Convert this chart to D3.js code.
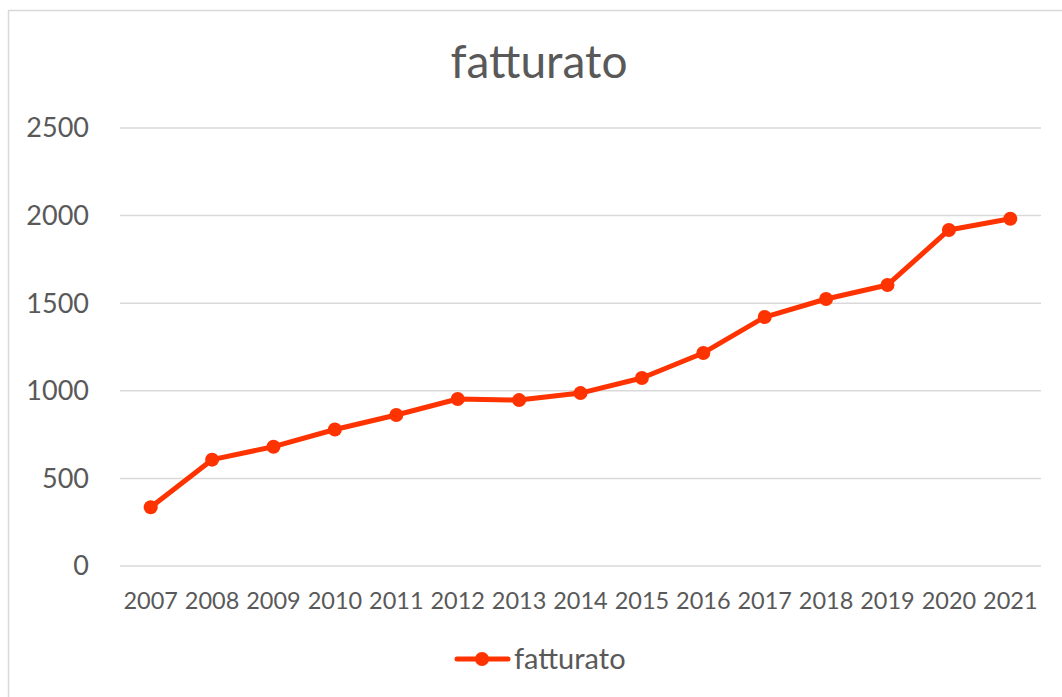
<!DOCTYPE html>
<html lang="it">
<head>
<meta charset="UTF-8">
<title>fatturato</title>
<script src="https://cdnjs.cloudflare.com/ajax/libs/d3/7.8.5/d3.min.js"></script>
<style>
  body { margin: 0; background: #fff; }
  svg { display: block; font-family: Lato, "Open Sans", sans-serif; }
</style>
</head>
<body>
<div id="chart"></div>
<script>
const years = ["2007","2008","2009","2010","2011","2012","2013","2014","2015","2016","2017","2018","2019","2020","2021"];
const fatturato = [335, 607, 681, 779, 862, 953, 947, 987, 1073, 1216, 1421, 1524, 1604, 1918, 1982];
const yTicks = [0, 500, 1000, 1500, 2000, 2500];

const width = 1062, height = 697;
const margin = { top: 128, right: 21, bottom: 131, left: 120 };
const color = "#ff3300";
const textColor = "#595959";

const svg = d3.select("#chart").append("svg")
  .attr("width", width).attr("height", height);

// chart area border
svg.append("rect")
  .attr("x", 8.5).attr("y", 10.5)
  .attr("width", width + 10).attr("height", height + 10)
  .attr("fill", "#fff").attr("stroke", "#d9d9d9").attr("stroke-width", 1.5);

const x = d3.scaleBand().domain(years)
  .range([margin.left, width - margin.right]);
const y = d3.scaleLinear().domain([0, 2500])
  .range([height - margin.bottom, margin.top]);

// gridlines
svg.append("g").selectAll("line").data(yTicks).join("line")
  .attr("x1", margin.left).attr("x2", width - margin.right)
  .attr("y1", d => y(d)).attr("y2", d => y(d))
  .attr("stroke", "#d9d9d9").attr("stroke-width", 1.5);

// y labels
svg.append("g").selectAll("text").data(yTicks).join("text")
  .attr("x", 89).attr("y", d => y(d)).attr("dy", "0.35em")
  .attr("text-anchor", "end")
  .attr("fill", textColor).style("font-size", "27px")
  .text(d => d);

// x labels
svg.append("g").selectAll("text").data(years).join("text")
  .attr("x", d => x(d) + x.bandwidth() / 2).attr("y", 601)
  .attr("dy", "0.35em")
  .attr("text-anchor", "middle")
  .attr("fill", textColor).style("font-size", "23.5px")
  .text(d => d);

// title
svg.append("text")
  .attr("x", 539).attr("y", 62).attr("dy", "0.35em")
  .attr("text-anchor", "middle")
  .attr("fill", textColor).style("font-size", "46px")
  .text("fatturato");

const pts = years.map((yr, i) => ({ yr, v: fatturato[i] }));
const line = d3.line()
  .x(d => x(d.yr) + x.bandwidth() / 2)
  .y(d => y(d.v));

svg.append("path").datum(pts)
  .attr("d", line)
  .attr("fill", "none").attr("stroke", color)
  .attr("stroke-width", 5).attr("stroke-linejoin", "round");

svg.append("g").selectAll("circle").data(pts).join("circle")
  .attr("cx", d => x(d.yr) + x.bandwidth() / 2)
  .attr("cy", d => y(d.v))
  .attr("r", 7)
  .attr("fill", color);

// legend
const lg = svg.append("g").attr("transform", "translate(0,659)");
lg.append("line")
  .attr("x1", 457).attr("x2", 508).attr("y1", 0).attr("y2", 0)
  .attr("stroke", color).attr("stroke-width", 5).attr("stroke-linecap", "round");
lg.append("circle").attr("cx", 482).attr("cy", 0).attr("r", 7).attr("fill", color);
lg.append("text")
  .attr("x", 514).attr("y", 0).attr("dy", "0.35em")
  .attr("fill", textColor).style("font-size", "29px")
  .text("fatturato");
</script>
</body>
</html>
